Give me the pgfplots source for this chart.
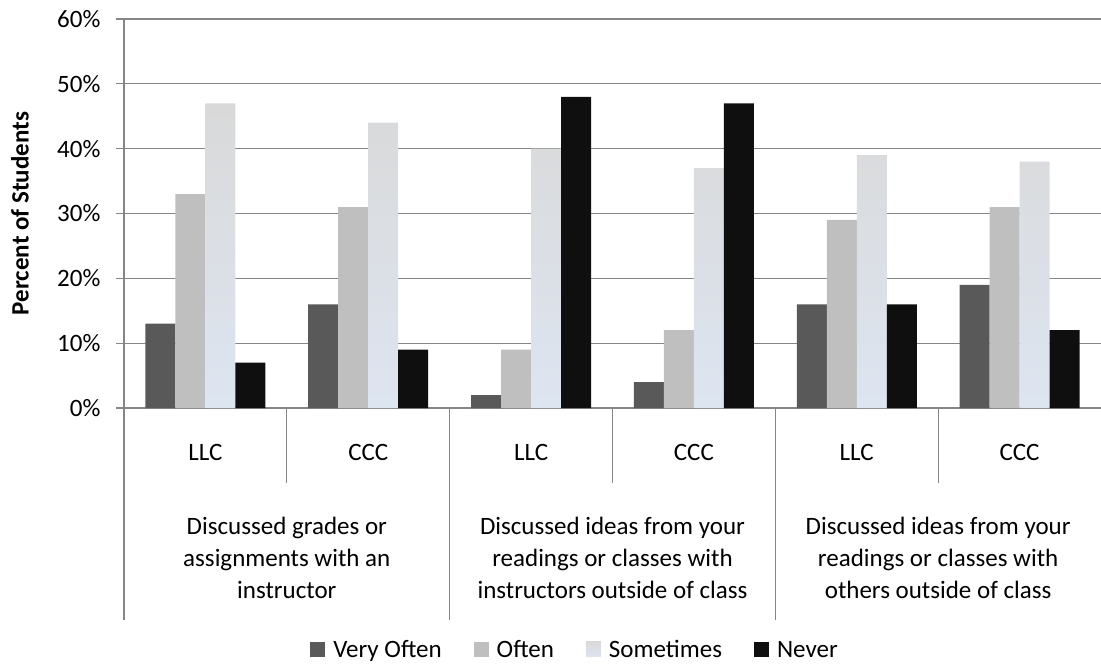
\documentclass[border=0pt]{standalone}
\usepackage{fontspec}
\setmainfont{Carlito}
\usepackage{pgfplots}
\pgfplotsset{compat=1.18}
\definecolor{veryoften}{HTML}{595959}
\definecolor{often}{HTML}{BFBFBF}
\definecolor{sometop}{HTML}{D9D9D9}
\definecolor{somebot}{HTML}{DDE5F1}
\definecolor{never}{HTML}{0F0F0F}
\definecolor{axisgray}{HTML}{868686}

\begin{document}
\begin{tikzpicture}[font=\fontsize{25}{32}\selectfont]
\useasboundingbox (-124pt,-257pt) rectangle (977pt,408pt);
\begin{axis}[
    scale only axis,
    width=977pt,
    height=389pt,
    xmin=-0.5, xmax=5.5,
    ymin=0, ymax=60,
    ybar=0pt,
    bar width=30pt,
    clip=false,
    axis y line*=left,
    axis x line*=bottom,
    axis line style={draw=axisgray, line width=1.2pt},
    ymajorgrids,
    grid style={draw=axisgray, line width=1.2pt},
    ytick={0,10,...,60},
    yticklabel={\pgfmathprintnumber{\tick}\%},
    /pgf/number format/assume math mode=true,
    yticklabel style={xshift=-12pt},
    tick align=outside,
    major tick length=8pt,
    ytick style={draw=axisgray, line width=1.2pt},
    xtick={0,...,5},
    xticklabels={LLC,CCC,LLC,CCC,LLC,CCC},
    xtick style={draw=none},
    xticklabel style={anchor=base, yshift=-44pt},
    every axis y label/.style={at={(axis description cs:-0.1064,0.5)}, rotate=90, anchor=center},
    ylabel={\bfseries Percent of Students},
    legend style={at={(0.4616,-0.622)}, anchor=center, draw=none, inner sep=0pt,
        legend columns=4,
        /tikz/every even column/.append style={column sep=30pt},
        font=\fontsize{25}{30}\selectfont},
    legend image code/.code={\fill[#1] (0pt,-7pt) rectangle (15pt,8pt); \path (21pt,0pt);},
]
\addplot[fill=veryoften, draw=none] coordinates {(0,13) (1,16) (2,2) (3,4) (4,16) (5,19)};
\addplot[fill=often, draw=none] coordinates {(0,33) (1,31) (2,9) (3,12) (4,29) (5,31)};
\addplot[top color=sometop, bottom color=somebot, draw=none] coordinates {(0,47) (1,44) (2,40) (3,37) (4,39) (5,38)};
\addplot[fill=never, draw=none] coordinates {(0,7) (1,9) (2,48) (3,47) (4,16) (5,12)};
\legend{Very Often, Often, Sometimes, Never}

\draw[axisgray, line width=1.2pt] (axis cs:-0.5,0) -- ++(0pt,-212pt);
\draw[axisgray, line width=1.2pt] (axis cs:1.5,0) -- ++(0pt,-212pt);
\draw[axisgray, line width=1.2pt] (axis cs:3.5,0) -- ++(0pt,-212pt);
\draw[axisgray, line width=1.2pt] (axis cs:0.5,0) -- ++(0pt,-75pt);
\draw[axisgray, line width=1.2pt] (axis cs:2.5,0) -- ++(0pt,-75pt);
\draw[axisgray, line width=1.2pt] (axis cs:4.5,0) -- ++(0pt,-75pt);

\node[align=center, yshift=-150pt] at (axis cs:0.5,0) {Discussed grades or\\assignments with an\\instructor};
\node[align=center, yshift=-150pt] at (axis cs:2.5,0) {Discussed ideas from your\\readings or classes with\\instructors outside of class};
\node[align=center, yshift=-150pt] at (axis cs:4.5,0) {Discussed ideas from your\\readings or classes with\\others outside of class};
\end{axis}
\end{tikzpicture}
\end{document}
